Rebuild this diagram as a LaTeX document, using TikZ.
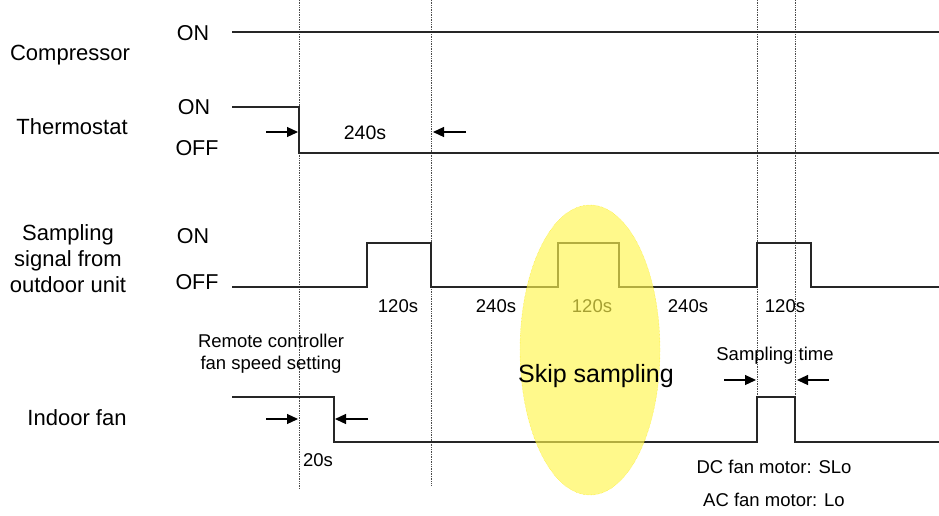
\documentclass[tikz,border=0pt]{standalone}
\usepackage{fontspec}
\setmainfont{Liberation Sans}
\usetikzlibrary{arrows.meta,positioning}

\begin{document}
\begin{tikzpicture}[x=1pt, y=-1pt,
    signal/.style={line width=1.3pt, black!85},
    marker/.style={densely dotted, line width=0.7pt, black!70},
    lbl/.style={font=\fontsize{22}{26}\selectfont, align=center, inner sep=0pt},
    lvl/.style={font=\fontsize{21.5}{25}\selectfont, inner sep=0pt},
    dur/.style={font=\fontsize{18.5}{22}\selectfont, align=center, inner sep=0pt},
    dimarrow/.style={-{Triangle[length=11pt,width=10pt]}, line width=1.2pt}
]
    \useasboundingbox (0,0) rectangle (939,515);

    % Time markers
    \coordinate (m1) at (299,0);
    \coordinate (m2) at (431,0);
    \coordinate (m3) at (757,0);
    \coordinate (m4) at (795,0);
    \draw[marker] (m1) -- ++(0,488);
    \draw[marker] (m2) -- ++(0,486);
    \draw[marker] (m3) -- ++(0,442);
    \draw[marker] (m4) -- ++(0,442);

    % Row labels
    \node[lbl] (comp) at (70,55) {Compressor};
    \node[lbl] (thermo) at (72,127) {Thermostat};
    \node[lbl] (samp) at (68,259) {Sampling\\signal from\\outdoor unit};
    \node[lbl] (fan) at (77,418) {Indoor fan};

    % Level labels
    \node[lvl] (compon) at (193,33) {ON};
    \node[lvl] (thon) at (194,107) {ON};
    \node[lvl] (thoff) at (197,148) {OFF};
    \node[lvl] (sampon) at (193,236) {ON};
    \node[lvl] (sampoff) at (197,282) {OFF};

    % Signals
    \draw[signal] (232,32) -- (939,32);
    \draw[signal] (232,107) -- (299,107) -- (299,153) -- (939,153);
    \draw[signal] (232,287) -- (367,287) -- (367,243) -- (431,243) -- (431,287)
        -- (558,287) -- (558,243) -- (619,243) -- (619,287)
        -- (757,287) -- (757,243) -- (811,243) -- (811,287) -- (939,287);
    \draw[signal] (232,397) -- (334,397) -- (334,442) -- (757,442) -- (757,397)
        -- (795,397) -- (795,442) -- (939,442);

    % Thermostat delay
    \draw[dimarrow] (266,132) -- (298,132);
    \draw[dimarrow] (466,132) -- (433,132);
    \node[dur, font=\fontsize{19.5}{22}\selectfont] (d240) at (365,133) {240s};

    % Sampling durations
    \node[dur] (s1) at (398,306) {120s};
    \node[dur] (s2) at (496,306) {240s};
    \node[dur] (s3) at (592,306) {120s};
    \node[dur] (s4) at (688,306) {240s};
    \node[dur] (s5) at (785,306) {120s};

    % Indoor fan
    \node[dur] (remote) at (271,354) {Remote controller\\fan speed setting};
    \draw[dimarrow] (266,419) -- (298,419);
    \draw[dimarrow] (368,419) -- (335,419);
    \node[dur] (d20) at (318,460) {20s};

    \node[dur] (stime) at (775,356) {Sampling time};
    \draw[dimarrow] (724,380) -- (756,380);
    \draw[dimarrow] (829,380) -- (797,380);
    \node[dur] (dcfan) at (774,467) {DC fan motor: SLo};
    \node[dur] (acfan) at (774,500) {AC fan motor: Lo};

    % Skipped sample
    \draw[yellow!90!orange, densely dotted, fill=yellow!70, fill opacity=0.65]
        (590,350) ellipse [x radius=70, y radius=145];
    \node[dur, font=\fontsize{25}{28}\selectfont] (skip) at (596,376) {Skip sampling};
\end{tikzpicture}
\end{document}
